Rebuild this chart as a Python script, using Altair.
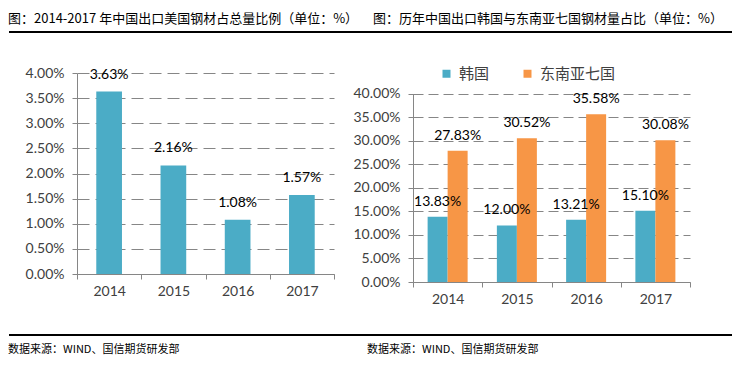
import altair as alt
import pandas as pd

# ---------------- data ----------------
years = ["2014", "2015", "2016", "2017"]
us_share = [3.63, 2.16, 1.08, 1.57]
korea_share = [13.83, 12.00, 13.21, 15.10]
asean7_share = [27.83, 30.52, 35.58, 30.08]
series_names = ["韩国", "东南亚七国"]
series_colors = ["#4BACC6", "#F79646"]
left_ticks = [0, 0.5, 1.0, 1.5, 2.0, 2.5, 3.0, 3.5, 4.0]
right_ticks = [0, 5, 10, 15, 20, 25, 30, 35, 40]
title_left = "图：2014-2017 年中国出口美国钢材占总量比例（单位：%）"
title_right = "图：历年中国出口韩国与东南亚七国钢材量占比（单位：%）"
source_text = "数据来源：WIND、国信期货研发部"

CJK = "Noto Sans CJK SC"
NUM = "Lato"
AXC = "#868686"
LABC = "#404040"

H = 209
W1 = 257
W2 = 277

left_df = pd.DataFrame({"year": years, "value": us_share})
right_df = pd.DataFrame({
    "year": years * 2,
    "series": [series_names[0]] * 4 + [series_names[1]] * 4,
    "value": korea_share + asean7_share,
})


def pct_label(df):
    return df.assign(label=[f"{v:.2f}%" for v in df["value"]])


left_df = pct_label(left_df)
right_df = pct_label(right_df)


def x_axis(offset):
    return alt.Axis(title=None, labelAngle=0, tickBand="extent", offset=offset,
                    domainColor=AXC, tickColor=AXC, tickSize=5, labelPadding=5,
                    labelFont=NUM, labelFontSize=14, labelColor=LABC, grid=False)


def y_axis(values, dash):
    return alt.Axis(title=None, values=values,
                    labelExpr="format(datum.value, '.2f') + '%'",
                    domainColor=AXC, tickColor=AXC, tickSize=5, labelPadding=8,
                    labelFont=NUM, labelFontSize=14, labelColor=LABC,
                    grid=True, gridColor=AXC, gridDash=dash, gridWidth=1)


def hline(x1, x2, y, w, opacity=1):
    return alt.Chart(pd.DataFrame({"k": [0]})).mark_rule(
        color="black", strokeWidth=w, strokeOpacity=opacity).encode(
        x=alt.value(x1), x2=alt.value(x2), y=alt.value(y))


def text_at(txt, x, y, size):
    return alt.Chart(pd.DataFrame({"t": [txt]})).mark_text(
        align="left", baseline="middle", font=CJK, fontSize=size, color="#000000").encode(
        x=alt.value(x), y=alt.value(y), text="t:N")


# ---------------- left panel ----------------
lx = alt.X("year:N", sort=years, scale=alt.Scale(paddingInner=0, paddingOuter=0), axis=x_axis(-8))
ly = alt.Y("value:Q", scale=alt.Scale(domain=[0, 4], range=[201, 0], nice=False, zero=True),
           axis=y_axis(left_ticks, [12, 6]))

left_bars = alt.Chart(left_df).mark_bar(width=alt.RelativeBandSize(0.4), color=series_colors[0]).encode(x=lx, y=ly)
left_text = alt.Chart(left_df).mark_text(dy=-17, baseline="middle", font=NUM, fontSize=14, color="#000000").encode(
    x=lx, y=ly, text="label:N")

left = alt.layer(
    left_bars, left_text,
    hline(0, 20, -64.5, 1, opacity=0),
    hline(-68, 285, -41, 2), hline(-68, 285, 262, 2),
    text_at(title_left, -69, -54, 13),
    text_at(source_text, -69, 277, 11),
).properties(width=W1, height=H)

# ---------------- right panel ----------------
rx = alt.X("year:N", sort=years, scale=alt.Scale(paddingInner=0, paddingOuter=0), axis=x_axis(0))
ry = alt.Y("value:Q", scale=alt.Scale(domain=[0, 40], range=[209, 20.5], nice=False, zero=True),
           axis=y_axis(right_ticks, [10, 5]))
xo = alt.XOffset("series:N", sort=series_names, scale=alt.Scale(paddingInner=0, paddingOuter=0.731))
col = alt.Color("series:N", sort=series_names,
                scale=alt.Scale(domain=series_names, range=series_colors),
                legend=alt.Legend(orient="none", legendX=26, legendY=-7, direction="horizontal",
                                  title=None, symbolType="square", symbolSize=64, symbolStrokeWidth=0,
                                  labelFont=CJK, labelFontSize=15, labelColor=LABC, labelOffset=5,
                                  columnPadding=30, padding=0))

right_bars = alt.Chart(right_df).mark_bar().encode(x=rx, xOffset=xo, y=ry, color=col)
right_text = alt.Chart(right_df).mark_text(dy=-15, baseline="middle", font=NUM, fontSize=14, color="#000000").encode(
    x=rx, xOffset=xo, y=ry, text="label:N")

right = alt.layer(
    right_bars, right_text,
    hline(-61, 319, -41, 2), hline(-61, 319, 262, 2),
    text_at(title_right, -40, -54, 13),
    text_at(source_text, -46, 277, 11),
).properties(width=W2, height=H)

chart = alt.hconcat(left, right, spacing=-12).resolve_scale(
    color="independent", x="independent", y="independent"
).properties(padding=0, background="white").configure_view(stroke=None)

chart.save("out.html", embed_options={"renderer": "svg", "actions": False})
